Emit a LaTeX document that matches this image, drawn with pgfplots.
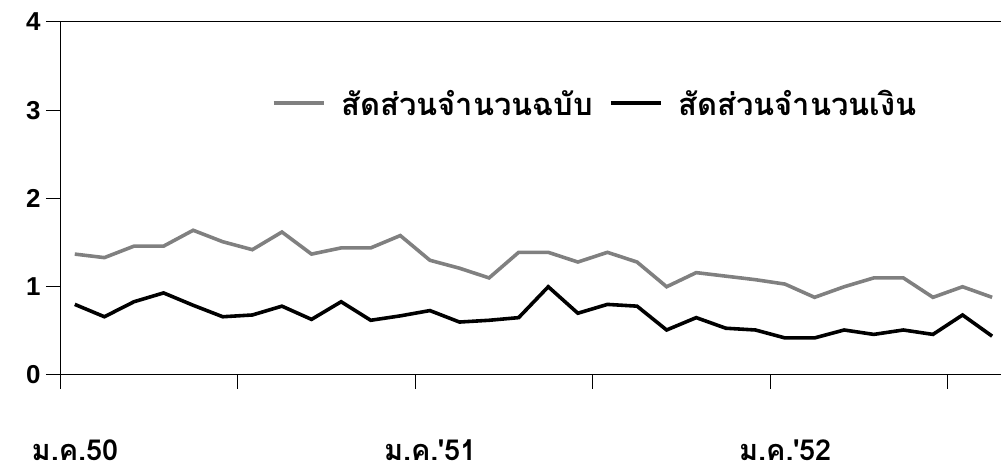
\documentclass[border=0pt]{standalone}
\usepackage{pgfplots}
\pgfplotsset{compat=1.18}
\usepackage{fontspec}
\setmainfont{Liberation Sans}
\newfontfamily\thaifont[Script=Thai]{Loma}
\begin{document}
\begin{tikzpicture}[x=1bp,y=1bp]
\useasboundingbox (-60,-95) rectangle (941,353+22);
\begin{axis}[
  at={(0,0)}, anchor=south west,
  scale only axis, width=941bp, height=353bp,
  xmin=0, xmax=31.8, ymin=0, ymax=4,
  axis x line*=bottom, axis y line*=left,
  axis line style={line width=1pt},
  xtick={0,6,12,18,24,30},
  xticklabels={{ม.ค.50},,{ม.ค.'51},,{ม.ค.'52},},
  xticklabel style={font=\thaifont\bfseries\fontsize{29}{30}\selectfont, yshift=-47bp, xshift=15bp},
  tick style={line width=1pt, black}, major tick length=14bp,
  tick align=outside,
  ytick={0,1,2,3},
  extra y ticks={4},
  extra y tick style={grid=major, major grid style={black,line width=1pt}},
  yticklabel style={font=\bfseries\fontsize{26}{28}\selectfont, xshift=-2bp},
  /pgf/number format/assume math mode=true,
  legend style={draw=none, fill=none, at={(0.225,0.77)}, anchor=west,
    font=\thaifont\bfseries\fontsize{31}{33}\selectfont, column sep=14bp, inner sep=0pt},
  legend columns=2,
  legend image code/.code={\draw[#1,line width=3.6pt] (0,0) -- (50bp,0);},
]
\addplot[color=gray, line width=3.6pt] coordinates {
(0.5,1.37)(1.5,1.33)(2.5,1.46)(3.5,1.46)(4.5,1.64)(5.5,1.51)(6.5,1.42)(7.5,1.62)
(8.5,1.37)(9.5,1.44)(10.5,1.44)(11.5,1.58)(12.5,1.30)(13.5,1.21)(14.5,1.10)(15.5,1.39)
(16.5,1.39)(17.5,1.28)(18.5,1.39)(19.5,1.28)(20.5,1.00)(21.5,1.16)(22.5,1.12)(23.5,1.08)
(24.5,1.03)(25.5,0.88)(26.5,1.00)(27.5,1.10)(28.5,1.10)(29.5,0.88)(30.5,1.00)(31.5,0.88)};
\addlegendentry{สัดส่วนจำนวนฉบับ}
\addplot[color=black, line width=3.6pt] coordinates {
(0.5,0.80)(1.5,0.66)(2.5,0.83)(3.5,0.93)(4.5,0.79)(5.5,0.66)(6.5,0.68)(7.5,0.78)
(8.5,0.63)(9.5,0.83)(10.5,0.62)(11.5,0.67)(12.5,0.73)(13.5,0.60)(14.5,0.62)(15.5,0.65)
(16.5,1.00)(17.5,0.70)(18.5,0.80)(19.5,0.78)(20.5,0.51)(21.5,0.65)(22.5,0.53)(23.5,0.51)
(24.5,0.42)(25.5,0.42)(26.5,0.51)(27.5,0.46)(28.5,0.51)(29.5,0.46)(30.5,0.68)(31.5,0.44)};
\addlegendentry{สัดส่วนจำนวนเงิน}
\end{axis}
\end{tikzpicture}
\end{document}
